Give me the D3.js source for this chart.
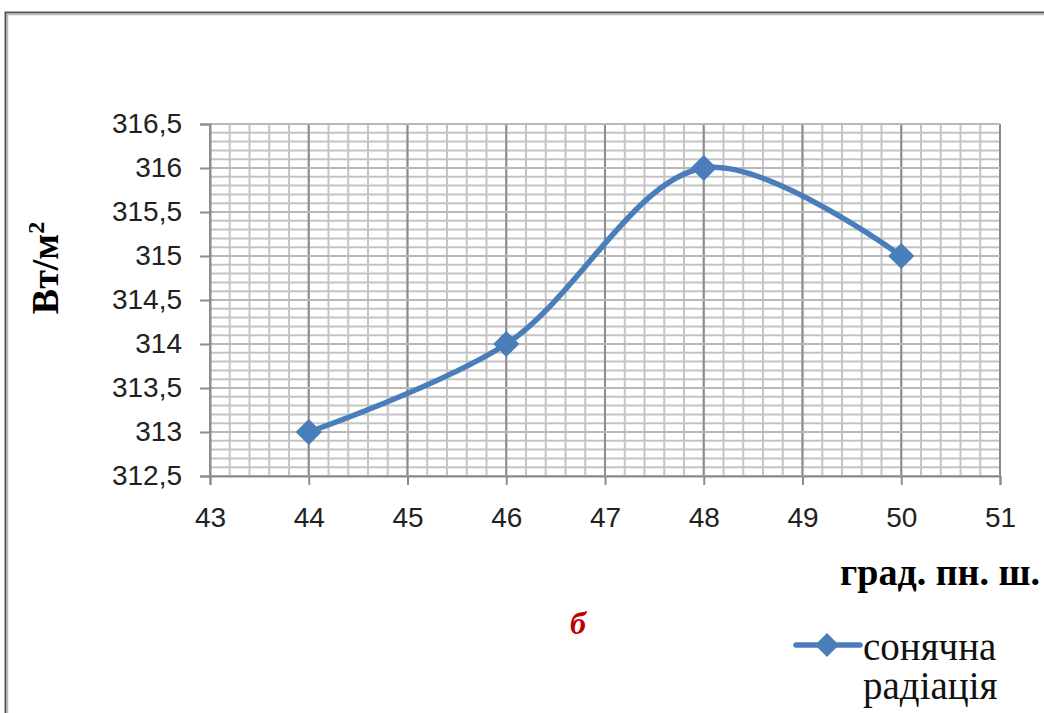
<!DOCTYPE html>
<html>
<head>
<meta charset="utf-8">
<script src="https://cdn.jsdelivr.net/npm/d3@7"></script>
<style>
  body { margin: 0; background: #fff; }
  svg { display: block; }
  .serif { font-family: "Liberation Serif", "DejaVu Serif", "Times New Roman", serif; }
</style>
</head>
<body>
<svg id="chart" width="1044" height="713"></svg>
<script>
// дані
const latitudes = [44, 46, 48, 50];
const radiation = [313, 314, 316, 315];
const xTicks = [43, 44, 45, 46, 47, 48, 49, 50, 51];
const yTicks = [312.5, 313, 313.5, 314, 314.5, 315, 315.5, 316, 316.5];
const seriesName = ["сонячна", "радіація"];

const svg = d3.select("#chart");
const plotL = 210, plotR = 1000, plotT = 124, plotB = 476;

const x = d3.scaleLinear().domain([43, 51]).range([plotL, plotR]);
const y = d3.scaleLinear().domain([312.5, 316.5]).range([plotB, plotT]);
const fmt = d => String(d).replace(".", ",");

// рамка
svg.append("rect")
    .attr("x", 5.5).attr("y", 12.5)
    .attr("width", 1100).attr("height", 800)
    .attr("fill", "none").attr("stroke", "#555").attr("stroke-width", 2);
svg.append("rect")
    .attr("x", 7.5).attr("y", 14.5)
    .attr("width", 1100).attr("height", 800)
    .attr("fill", "none").attr("stroke", "#bbb").attr("stroke-width", 1.5);

// дрібна сітка
const grid = svg.append("g");
const minorX = d3.range(43, 51.001, 0.2);
const minorY = d3.range(312.5, 316.501, 0.1);
grid.selectAll(".mx").data(minorX).join("line")
    .attr("x1", d => x(d)).attr("x2", d => x(d))
    .attr("y1", plotT).attr("y2", plotB)
    .attr("stroke", "#c4c4c4").attr("stroke-width", 2);
grid.selectAll(".my").data(minorY).join("line")
    .attr("x1", plotL).attr("x2", plotR)
    .attr("y1", d => y(d)).attr("y2", d => y(d))
    .attr("stroke", "#c4c4c4").attr("stroke-width", 2);
// основна сітка
grid.selectAll(".gx").data(xTicks).join("line")
    .attr("x1", d => x(d)).attr("x2", d => x(d))
    .attr("y1", plotT).attr("y2", plotB)
    .attr("stroke", "#8c8c8c").attr("stroke-width", 2);
grid.selectAll(".gy").data(yTicks).join("line")
    .attr("x1", plotL).attr("x2", plotR)
    .attr("y1", d => y(d)).attr("y2", d => y(d))
    .attr("stroke", "#b8b8b8").attr("stroke-width", 2);

// осі
const yAxis = svg.append("g")
    .attr("transform", `translate(${plotL},0)`)
    .call(d3.axisLeft(y).tickValues(yTicks).tickFormat(fmt).tickSize(10).tickPadding(18));
const xAxis = svg.append("g")
    .attr("transform", `translate(0,${plotB})`)
    .call(d3.axisBottom(x).tickValues(xTicks).tickFormat(d3.format("d")).tickSize(9).tickPadding(22));
[yAxis, xAxis].forEach(a => {
    a.select(".domain").attr("stroke", "#8c8c8c").attr("stroke-width", 2);
    a.selectAll(".tick line").attr("stroke", "#8c8c8c").attr("stroke-width", 2);
    a.selectAll("text")
        .attr("fill", "#222")
        .style("font-family", "'Liberation Sans', Arial, sans-serif")
        .style("font-size", "28px");
});

// лінія
const pts = latitudes.map((d, i) => [x(d), y(radiation[i])]);
svg.append("path")
    .datum(pts)
    .attr("d", d3.line().curve(d3.curveCatmullRom.alpha(0.5)))
    .attr("fill", "none")
    .attr("stroke", "#4a7ebb")
    .attr("stroke-width", 5.5)
    .attr("stroke-linecap", "round");

const diamond = d3.symbol().type(d3.symbolDiamond2).size(370);
svg.selectAll(".pt").data(pts).join("path")
    .attr("transform", d => `translate(${d[0]},${d[1]})`)
    .attr("d", diamond)
    .attr("fill", "#4a7ebb")
    .attr("stroke", "#4a7ebb").attr("stroke-width", 1.5);

// підписи осей
svg.append("text")
    .attr("class", "serif")
    .attr("transform", "translate(58,268) rotate(-90)")
    .attr("text-anchor", "middle")
    .attr("font-weight", "bold").attr("font-size", 38)
    .text("Вт/м")
    .append("tspan").attr("dy", -14).attr("font-size", 24).text("2");

svg.append("text")
    .attr("class", "serif")
    .attr("x", 1040).attr("y", 585)
    .attr("text-anchor", "end")
    .attr("font-weight", "bold").attr("font-size", 38)
    .text("град. пн. ш.");

svg.append("text")
    .attr("class", "serif")
    .attr("x", 578).attr("y", 634)
    .attr("text-anchor", "middle")
    .attr("fill", "#c00000")
    .attr("font-weight", "bold").attr("font-style", "italic").attr("font-size", 32)
    .text("б");

// легенда
const lg = svg.append("g");
lg.append("line")
    .attr("x1", 796).attr("x2", 860).attr("y1", 645).attr("y2", 645)
    .attr("stroke", "#4a7ebb").attr("stroke-width", 5.5).attr("stroke-linecap", "round");
lg.append("path")
    .attr("transform", "translate(827,645)")
    .attr("d", diamond)
    .attr("fill", "#4a7ebb");
lg.selectAll("text").data(seriesName).join("text")
    .attr("class", "serif")
    .attr("x", 863).attr("y", (d, i) => 660 + i * 39)
    .attr("font-size", 39)
    .attr("fill", "#111")
    .text(d => d);
</script>
</body>
</html>
